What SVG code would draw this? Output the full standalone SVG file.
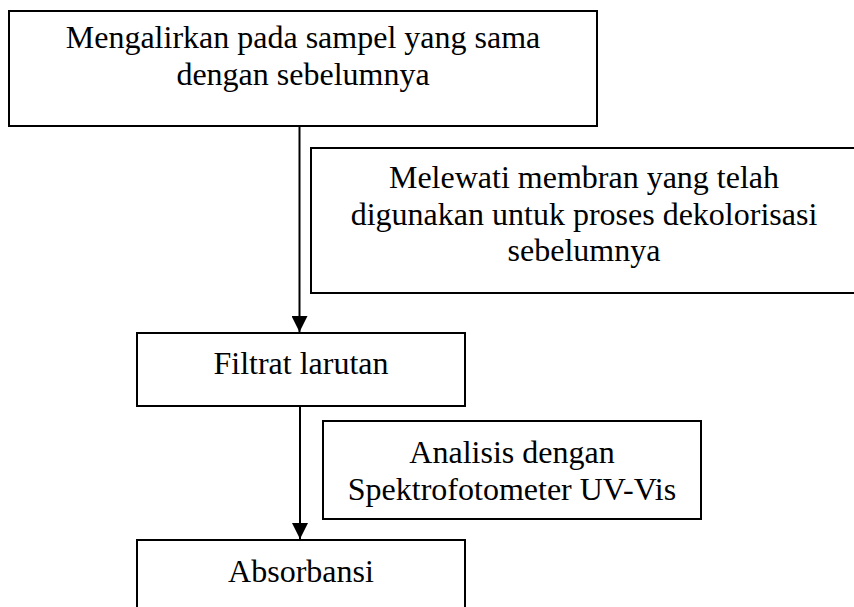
<svg xmlns="http://www.w3.org/2000/svg" width="854" height="607" viewBox="0 0 854 607">
  <style>
    .box { fill: #ffffff; stroke: #000000; stroke-width: 2; }
    .label { font-family: "Liberation Serif", "Times New Roman", serif; font-size: 32px; fill: #000000; text-anchor: middle; }
    .link { stroke: #000000; stroke-width: 2; fill: none; }
  </style>
  <defs>
    <marker id="arrow" markerUnits="userSpaceOnUse" markerWidth="16" markerHeight="16" viewBox="0 0 16 16" refX="16" refY="8" orient="auto">
      <path d="M0,0 L16,8 L0,16 Z" fill="#000000"/>
    </marker>
  </defs>
  <rect width="854" height="607" fill="#ffffff"/>

  <g id="connectors">
    <line class="link" x1="299.5" y1="126" x2="299.5" y2="332" marker-end="url(#arrow)"/>
    <line class="link" x1="300" y1="406" x2="300" y2="539" marker-end="url(#arrow)"/>
  </g>

  <g id="node-mengalirkan">
    <rect class="box" x="9" y="11" width="588" height="115"/>
    <text class="label" x="303" y="48">Mengalirkan pada sampel yang sama</text>
    <text class="label" x="303" y="85">dengan sebelumnya</text>
  </g>

  <g id="node-melewati">
    <rect class="box" x="311" y="148" width="549" height="145"/>
    <text class="label" x="584" y="188">Melewati membran yang telah</text>
    <text class="label" x="584" y="225">digunakan untuk proses dekolorisasi</text>
    <text class="label" x="584" y="261">sebelumnya</text>
  </g>

  <g id="node-filtrat">
    <rect class="box" x="137" y="333" width="328" height="73"/>
    <text class="label" x="301" y="374">Filtrat larutan</text>
  </g>

  <g id="node-analisis">
    <rect class="box" x="323" y="421" width="378" height="98"/>
    <text class="label" x="512" y="463">Analisis dengan</text>
    <text class="label" x="512" y="499.5">Spektrofotometer UV-Vis</text>
  </g>

  <g id="node-absorbansi">
    <rect class="box" x="137" y="540" width="328" height="80"/>
    <text class="label" x="301" y="582">Absorbansi</text>
  </g>
</svg>
